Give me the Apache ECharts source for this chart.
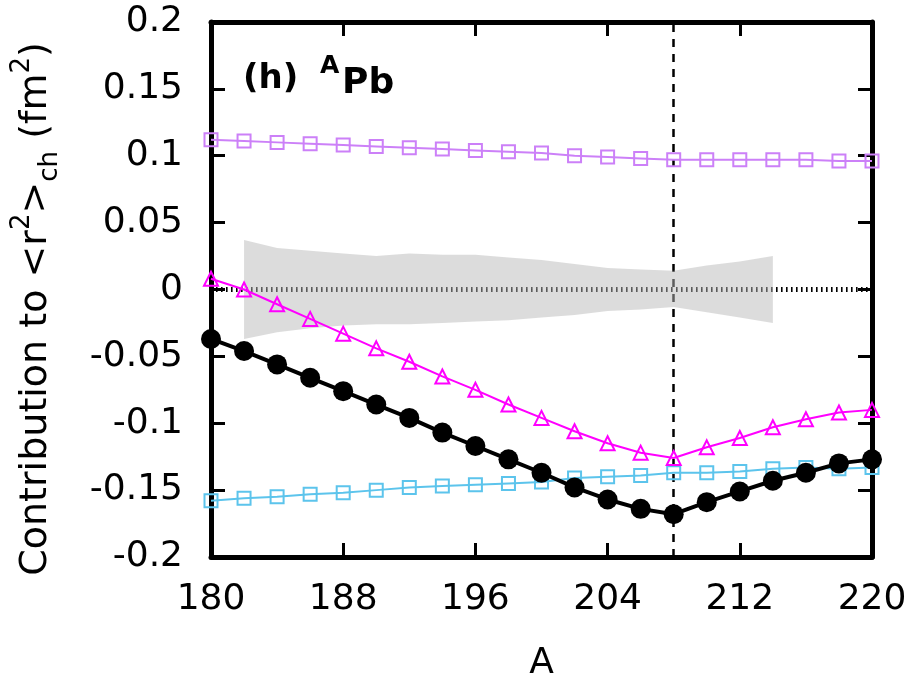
<!DOCTYPE html>
<html>
<head>
<meta charset="utf-8">
<script src="https://cdn.jsdelivr.net/npm/echarts@6/dist/echarts.min.js"></script>
<style>
html,body{margin:0;padding:0;background:#fff;}
#chart{width:919px;height:693px;}
</style>
</head>
<body>
<div id="chart"></div>
<script>
// ---- data ----
const massNumbers = [180,182,184,186,188,190,192,194,196,198,200,202,204,206,208,210,212,214,216,218,220];
const totalContribution = [-0.037,-0.046,-0.056,-0.066,-0.076,-0.086,-0.096,-0.107,-0.117,-0.127,-0.137,-0.148,-0.157,-0.164,-0.168,-0.159,-0.151,-0.143,-0.137,-0.130,-0.127];
const magentaContribution = [0.008,0.000,-0.011,-0.022,-0.033,-0.044,-0.054,-0.065,-0.075,-0.086,-0.096,-0.106,-0.115,-0.122,-0.126,-0.118,-0.111,-0.103,-0.097,-0.092,-0.090];
const purpleContribution = [0.112,0.111,0.110,0.109,0.108,0.107,0.106,0.105,0.104,0.103,0.102,0.100,0.099,0.098,0.097,0.097,0.097,0.097,0.097,0.096,0.096];
const cyanContribution = [-0.158,-0.156,-0.155,-0.153,-0.152,-0.150,-0.148,-0.147,-0.146,-0.145,-0.144,-0.141,-0.140,-0.139,-0.137,-0.137,-0.136,-0.134,-0.133,-0.134,-0.133];
const bandMass = [182,184,186,188,190,192,194,196,198,200,202,204,206,208,210,212,214];
const bandUpper = [0.037,0.031,0.029,0.027,0.025,0.027,0.026,0.026,0.024,0.022,0.019,0.016,0.015,0.014,0.018,0.021,0.025];
const bandLower = [-0.037,-0.032,-0.029,-0.027,-0.026,-0.026,-0.025,-0.024,-0.023,-0.021,-0.019,-0.016,-0.015,-0.013,-0.017,-0.021,-0.025];
const zeroLevel = 0;
const referenceMass = 208;
const xTicks = [180,188,196,204,212,220];
const yTicks = [-0.2,-0.15,-0.1,-0.05,0,0.05,0.1,0.15,0.2];

const pair = (xs, ys) => xs.map((x, i) => [x, ys[i]]);
const FONT = 'DejaVu Sans';

const axisCommon = {
  type: 'value',
  axisLine: {show: true, onZero: false, lineStyle: {color: '#000', width: 5}},
  axisTick: {show: true, inside: true, length: 14, lineStyle: {color: '#000', width: 3}},
  splitLine: {show: false}
};

const chart = echarts.init(document.getElementById('chart'), null, {renderer: 'canvas'});
chart.setOption({
  animation: false,
  backgroundColor: '#fff',
  grid: {left: 211, right: 47, top: 22, bottom: 136, containLabel: false},
  xAxis: [
    Object.assign({}, axisCommon, {
      position: 'bottom', min: xTicks[0], max: xTicks[xTicks.length - 1], interval: xTicks[1] - xTicks[0],
      name: 'A', nameLocation: 'middle', nameGap: 89,
      nameTextStyle: {fontFamily: FONT, fontSize: 36, color: '#000'},
      axisLabel: {fontFamily: FONT, fontSize: 36, color: '#000', margin: 25}
    }),
    Object.assign({}, axisCommon, {
      position: 'top', min: xTicks[0], max: xTicks[xTicks.length - 1], interval: xTicks[1] - xTicks[0],
      axisLabel: {show: false}
    })
  ],
  yAxis: [
    Object.assign({}, axisCommon, {
      position: 'left', min: yTicks[0], max: yTicks[yTicks.length - 1], interval: 0.05,
      axisLabel: {fontFamily: FONT, fontSize: 36, color: '#000', margin: 28,
        formatter: v => String(+v.toFixed(2))}
    }),
    Object.assign({}, axisCommon, {
      position: 'right', min: yTicks[0], max: yTicks[yTicks.length - 1], interval: 0.05,
      axisLabel: {show: false}
    })
  ],
  graphic: [
    {
      type: 'text', x: 243, y: 79, z: 100,
      style: {text: '(h)', fontFamily: FONT, fontWeight: 'bold', fontSize: 34, fill: '#000', verticalAlign: 'middle'}
    },
    {
      type: 'text', x: 320, y: 66, z: 100,
      style: {text: 'A', fontFamily: FONT, fontWeight: 'bold', fontSize: 25, fill: '#000', verticalAlign: 'middle'}
    },
    {
      type: 'text', x: 342, y: 84, z: 100,
      style: {text: 'Pb', fontFamily: FONT, fontWeight: 'bold', fontSize: 36, fill: '#000', verticalAlign: 'middle'}
    },
    {
      type: 'text', x: 36, y: 309, rotation: Math.PI / 2, z: 100,
      style: {
        text: '{a|Contribution to <r}{p|2}{a|>}{b|ch}{a| (fm}{p|2}{a|)}',
        align: 'center', verticalAlign: 'middle',
        rich: {
          a: {fontFamily: FONT, fontSize: 38, color: '#000', lineHeight: 54, verticalAlign: 'middle'},
          p: {fontFamily: FONT, fontSize: 26, color: '#000', lineHeight: 31, verticalAlign: 'top'},
          b: {fontFamily: FONT, fontSize: 26, color: '#000', lineHeight: 27, verticalAlign: 'bottom'}
        }
      }
    }
  ],
  series: [
    {
      name: 'refs', type: 'line', data: [], z: 1,
      markLine: {
        silent: true, symbol: 'none', z: 1, label: {show: false},
        data: [
          {yAxis: zeroLevel, lineStyle: {color: '#000', width: 5, type: [1.6, 3.4]}},
          {xAxis: referenceMass, lineStyle: {color: '#000', width: 2.5, type: [8, 7]}}
        ]
      }
    },
    {
      name: 'bandUpper', type: 'line', data: pair(bandMass, bandUpper), z: 2,
      symbol: 'none', lineStyle: {width: 0}, areaStyle: {color: '#b9b9b9', opacity: 0.5, origin: 'auto'}
    },
    {
      name: 'bandLower', type: 'line', data: pair(bandMass, bandLower), z: 2,
      symbol: 'none', lineStyle: {width: 0}, areaStyle: {color: '#b9b9b9', opacity: 0.5, origin: 'auto'}
    },
    {
      name: 'cyan', type: 'line', data: pair(massNumbers, cyanContribution), z: 3,
      symbol: 'rect', symbolSize: 13,
      lineStyle: {color: '#5cc4ec', width: 2},
      itemStyle: {color: 'rgba(0,0,0,0)', borderColor: '#5cc4ec', borderWidth: 2}
    },
    {
      name: 'purple', type: 'line', data: pair(massNumbers, purpleContribution), z: 3,
      symbol: 'rect', symbolSize: 13,
      lineStyle: {color: '#cc80f8', width: 2},
      itemStyle: {color: 'rgba(0,0,0,0)', borderColor: '#cc80f8', borderWidth: 2}
    },
    {
      name: 'magenta', type: 'line', data: pair(massNumbers, magentaContribution), z: 4,
      symbol: 'triangle', symbolSize: 14,
      lineStyle: {color: '#ff00ff', width: 2},
      itemStyle: {color: 'rgba(0,0,0,0)', borderColor: '#ff00ff', borderWidth: 2}
    },
    {
      name: 'total', type: 'line', data: pair(massNumbers, totalContribution), z: 5,
      symbol: 'circle', symbolSize: 20,
      lineStyle: {color: '#000', width: 4},
      itemStyle: {color: '#000'}
    }
  ]
});
</script>
</body>
</html>
